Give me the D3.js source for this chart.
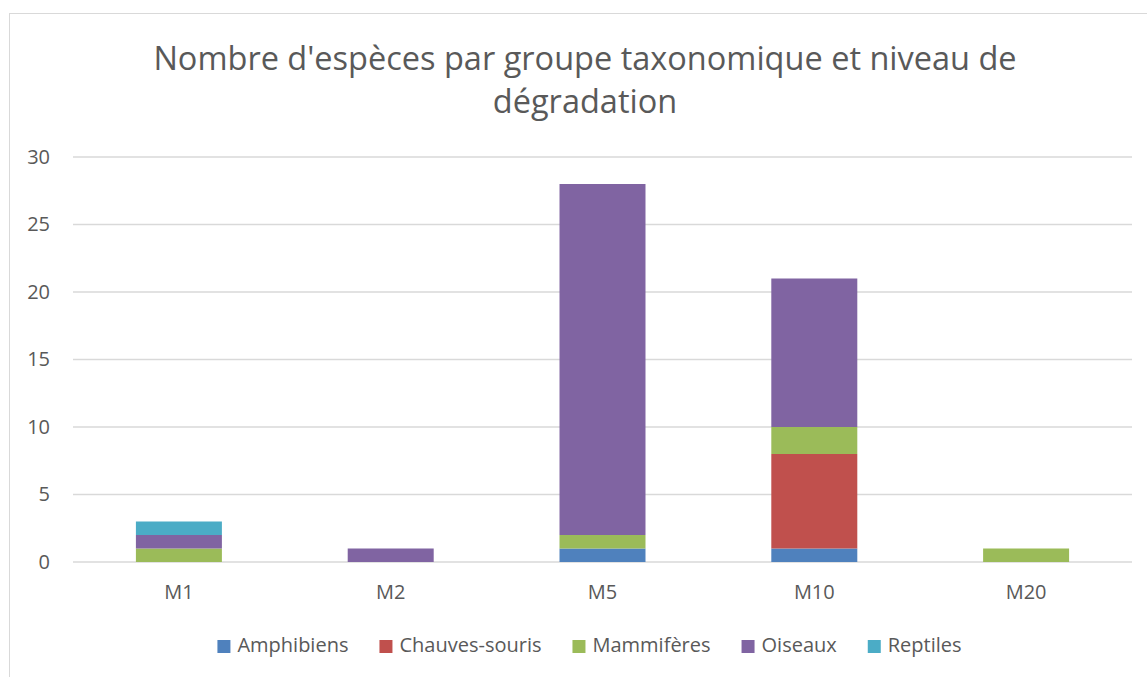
<!DOCTYPE html>
<html>
<head>
<meta charset="utf-8">
<script src="https://cdn.jsdelivr.net/npm/d3@7"></script>
<style>
  body { margin: 0; background: #fff; }
  text { font-family: "Open Sans", "Noto Sans", sans-serif; fill: #595959; }
</style>
</head>
<body>
<div id="chart"></div>
<script>
// data
var categories = ["M1", "M2", "M5", "M10", "M20"];
var seriesNames = ["Amphibiens", "Chauves-souris", "Mammifères", "Oiseaux", "Reptiles"];
var amphibiens = [0, 0, 1, 1, 0];
var chauvesSouris = [0, 0, 0, 7, 0];
var mammiferes = [1, 0, 1, 2, 1];
var oiseaux = [1, 1, 26, 11, 0];
var reptiles = [1, 0, 0, 0, 0];
var yTicks = [0, 5, 10, 15, 20, 25, 30];
var colors = ["#4F81BD", "#C0504D", "#9BBB59", "#8064A2", "#4BACC6"];

var svgWidth = 1147, svgHeight = 677;
var margin = { top: 157, right: 15, bottom: 115, left: 73 };
var width = svgWidth - margin.left - margin.right;
var height = svgHeight - margin.top - margin.bottom;

var svg = d3.select("#chart").append("svg")
  .attr("width", svgWidth)
  .attr("height", svgHeight);

// chart frame
svg.append("rect")
  .attr("x", 9.5).attr("y", 13.5)
  .attr("width", 1150).attr("height", 700)
  .attr("fill", "none")
  .attr("stroke", "#d9d9d9")
  .attr("stroke-width", 1);

// title
var title = svg.append("text")
  .attr("text-anchor", "middle")
  .attr("font-size", "32.5px");
title.append("tspan").attr("x", 585).attr("y", 70).text("Nombre d'espèces par groupe taxonomique et niveau de");
title.append("tspan").attr("x", 585).attr("y", 113).text("dégradation");

var chartGroup = svg.append("g")
  .attr("transform", `translate(${margin.left}, ${margin.top})`);

// table for stack
var table = categories.map(function(c, i) {
  return {
    cat: c,
    "Amphibiens": amphibiens[i],
    "Chauves-souris": chauvesSouris[i],
    "Mammifères": mammiferes[i],
    "Oiseaux": oiseaux[i],
    "Reptiles": reptiles[i]
  };
});

var xScale = d3.scaleBand()
  .domain(categories)
  .range([0, width])
  .paddingInner(0.594)
  .paddingOuter(0.297);

var yScale = d3.scaleLinear()
  .domain([0, 30])
  .range([height, 0]);

// gridlines
chartGroup.append("g")
  .selectAll("line")
  .data(yTicks)
  .enter()
  .append("line")
  .attr("x1", 0)
  .attr("x2", width)
  .attr("y1", d => yScale(d))
  .attr("y2", d => yScale(d))
  .attr("stroke", "#d9d9d9")
  .attr("stroke-width", 1.5);

// y axis labels
var yAxis = d3.axisLeft(yScale).tickValues(yTicks).tickSize(0).tickPadding(23);
var yG = chartGroup.append("g").call(yAxis);
yG.select(".domain").remove();
yG.selectAll("text").attr("font-size", "20px").attr("fill", "#595959")
  .attr("font-family", "'Open Sans', sans-serif");

// stacked bars
var stack = d3.stack().keys(seriesNames);
var layers = stack(table);

chartGroup.selectAll(".layer")
  .data(layers)
  .enter()
  .append("g")
  .attr("class", "layer")
  .attr("fill", (d, i) => colors[i])
  .selectAll("rect")
  .data(d => d)
  .enter()
  .append("rect")
  .attr("x", d => xScale(d.data.cat))
  .attr("y", d => yScale(d[1]))
  .attr("width", xScale.bandwidth())
  .attr("height", d => yScale(d[0]) - yScale(d[1]));

// x axis labels
var xAxis = d3.axisBottom(xScale).tickSize(0).tickPadding(23);
var xG = chartGroup.append("g")
  .attr("transform", `translate(0, ${height})`)
  .call(xAxis);
xG.select(".domain").remove();
xG.selectAll("text").attr("font-size", "20px").attr("fill", "#595959")
  .attr("font-family", "'Open Sans', sans-serif");

// legend, laid out from text widths and centered
var legend = svg.append("g");
var items = seriesNames.map(function(name, i) {
  var g = legend.append("g");
  g.append("rect")
    .attr("y", 640)
    .attr("width", 13)
    .attr("height", 13)
    .attr("fill", colors[i]);
  var t = g.append("text")
    .attr("x", 20)
    .attr("y", 652)
    .attr("font-size", "20px")
    .text(name);
  return { g: g, w: 20 + t.node().getComputedTextLength() };
});
var gap = 31;
var total = d3.sum(items, d => d.w) + gap * (items.length - 1);
var cx = 589.5 - total / 2;
items.forEach(function(it) {
  it.g.attr("transform", `translate(${cx}, 0)`);
  cx += it.w + gap;
});
</script>
</body>
</html>
